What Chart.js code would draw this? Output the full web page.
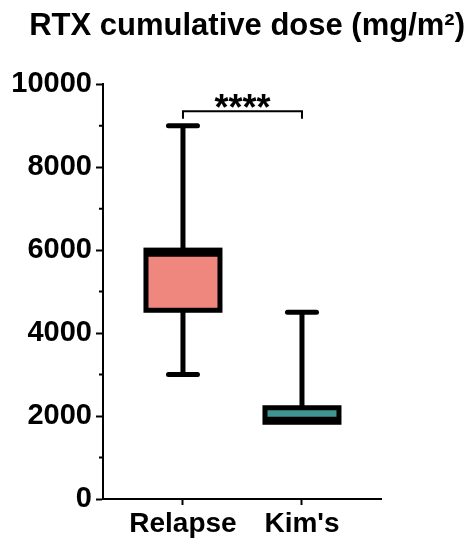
<!DOCTYPE html>
<html>
<head>
<meta charset="utf-8">
<script src="https://cdn.jsdelivr.net/npm/chart.js@4/dist/chart.umd.min.js"></script>
<style>
  html, body { margin: 0; padding: 0; background: #fff; }
  #wrap { width: 468px; height: 545px; }
</style>
</head>
<body>
<div id="wrap"><canvas id="chart"></canvas></div>
<script>
// box plot values (mg/m²)
const categories = ['Relapse', "Kim's"];
const mins    = [3000, 1850];
const q1s     = [4550, 1850];
const medians = [5900, 1920];
const q3s     = [6000, 2200];
const maxs    = [9000, 4500];

const boxColors = ['#f0877f', '#3f9591'];
const sigPair = [0, 1];
const sigLabel = '****';
const sigLevel = 9350;

const FONT = "'Liberation Sans', Arial, sans-serif";

// whiskers, caps, box outline, median, minor ticks and significance bracket
const boxPlotPlugin = {
  id: 'boxPlot',
  afterDatasetsDraw(chart) {
    const { ctx, scales: { x, y }, chartArea } = chart;
    const meta = chart.getDatasetMeta(0);
    ctx.save();
    ctx.strokeStyle = '#000';

    meta.data.forEach((bar, i) => {
      const { x: cx, width } = bar.getProps(['x', 'width'], true);
      const half = width / 2;
      const yMin = y.getPixelForValue(mins[i]);
      const yMax = y.getPixelForValue(maxs[i]);
      const yQ1 = y.getPixelForValue(q1s[i]);
      const yQ3 = y.getPixelForValue(q3s[i]);
      const yMed = y.getPixelForValue(medians[i]);

      // whiskers
      ctx.lineWidth = 5;
      ctx.lineCap = 'butt';
      ctx.beginPath();
      ctx.moveTo(cx, yQ3); ctx.lineTo(cx, yMax);
      ctx.moveTo(cx, yQ1); ctx.lineTo(cx, yMin);
      ctx.stroke();
      // caps
      ctx.lineCap = 'round';
      ctx.beginPath();
      ctx.moveTo(cx - 14.5, yMax); ctx.lineTo(cx + 14.5, yMax);
      if (mins[i] < q1s[i]) { ctx.moveTo(cx - 14.5, yMin); ctx.lineTo(cx + 14.5, yMin); }
      ctx.stroke();
      // box outline
      ctx.lineCap = 'butt';
      ctx.lineJoin = 'miter';
      ctx.lineWidth = 5;
      ctx.strokeRect(cx - half, yQ3, width, yQ1 - yQ3);
      // median
      ctx.beginPath();
      ctx.moveTo(cx - half, yMed); ctx.lineTo(cx + half, yMed);
      ctx.stroke();
    });

    // minor ticks on the y axis
    ctx.lineWidth = 2;
    ctx.lineCap = 'butt';
    ctx.beginPath();
    for (let v = y.min + 1000; v < y.max; v += 2000) {
      const py = y.getPixelForValue(v);
      ctx.moveTo(chartArea.left - 4, py); ctx.lineTo(chartArea.left, py);
    }
    ctx.stroke();

    // significance bracket
    const x0 = x.getPixelForValue(sigPair[0]);
    const x1 = x.getPixelForValue(sigPair[1]);
    const yb = y.getPixelForValue(sigLevel);
    const drop = y.getPixelForValue(sigLevel - 180) - yb;
    ctx.lineWidth = 2;
    ctx.beginPath();
    ctx.moveTo(x0, yb + drop); ctx.lineTo(x0, yb); ctx.lineTo(x1, yb); ctx.lineTo(x1, yb + drop);
    ctx.stroke();
    ctx.fillStyle = '#000';
    ctx.font = `bold 36px ${FONT}`;
    ctx.textAlign = 'center';
    ctx.textBaseline = 'alphabetic';
    ctx.fillText(sigLabel, (x0 + x1) / 2, yb + 9);
    ctx.restore();
  }
};

new Chart(document.getElementById('chart'), {
  type: 'bar',
  data: {
    datasets: [{
      data: categories.map((c, i) => ({ x: i, y: [q1s[i], q3s[i]] })),
      backgroundColor: boxColors,
      borderWidth: 0,
      barThickness: 74
    }]
  },
  options: {
    responsive: true,
    maintainAspectRatio: false,
    animation: false,
    layout: { padding: { left: 6, right: 3, top: 0, bottom: 0 } },
    plugins: {
      legend: { display: false },
      tooltip: { enabled: false },
      title: {
        display: true,
        align: 'end',
        text: 'RTX cumulative dose (mg/m²)',
        color: '#000',
        font: { family: FONT, size: 31, weight: 'bold' },
        padding: { top: 8, bottom: 39 }
      }
    },
    scales: {
      x: {
        type: 'linear',
        min: -0.672,
        max: 1.664,
        offset: false,
        afterBuildTicks: s => { s.ticks = categories.map((c, i) => ({ value: i })); },
        afterFit: s => { s.height = 46; },
        ticks: {
          callback: v => categories[v],
          color: '#000',
          font: { family: FONT, size: 28, weight: 'bold' },
          padding: 2,
          maxRotation: 0,
          autoSkip: false
        },
        grid: { offset: false, drawOnChartArea: false, tickLength: 6, tickWidth: 2, tickColor: '#000' },
        border: { color: '#000', width: 2 }
      },
      y: {
        min: 0,
        max: 10000,
        afterFit: s => { s.width = 97; },
        ticks: {
          stepSize: 2000,
          callback: v => String(v),
          color: '#000',
          font: { family: FONT, size: 29, weight: 'bold' },
          padding: 4
        },
        grid: { drawOnChartArea: false, tickLength: 7, tickWidth: 2, tickColor: '#000' },
        border: { color: '#000', width: 2 }
      },
      spacer: {
        type: 'linear',
        position: 'right',
        afterFit: s => { s.width = 84; },
        ticks: { display: false },
        grid: { display: false },
        border: { display: false }
      }
    }
  },
  plugins: [boxPlotPlugin]
});
</script>
</body>
</html>
